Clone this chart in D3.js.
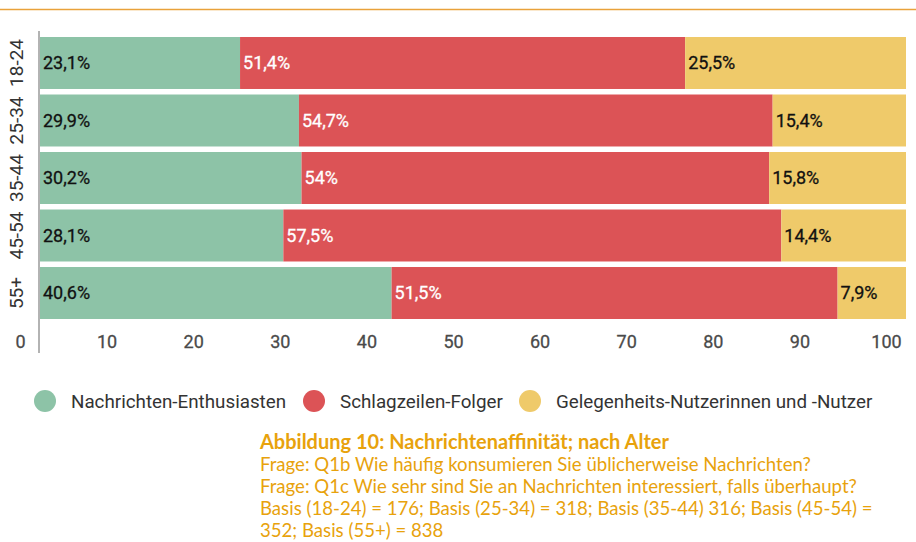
<!DOCTYPE html>
<html>
<head>
<meta charset="utf-8">
<script src="https://cdn.jsdelivr.net/npm/d3@7"></script>
<style>
  body { margin: 0; background: #fff; }
  svg { display: block; }
</style>
</head>
<body>
<div class="chart"></div>
<script>
// data
const ageGroups = ["18-24", "25-34", "35-44", "45-54", "55+"];
const enthusiasten = [23.1, 29.9, 30.2, 28.1, 40.6];
const folger = [51.4, 54.7, 54, 57.5, 51.5];
const gelegenheit = [25.5, 15.4, 15.8, 14.4, 7.9];
const seriesNames = ["Nachrichten-Enthusiasten", "Schlagzeilen-Folger", "Gelegenheits-Nutzerinnen und -Nutzer"];
const seriesColors = ["#8dc3a7", "#dc5356", "#efca6a"];
const labelColors = ["#111", "#fff", "#111"];
const xTicks = [0, 10, 20, 30, 40, 50, 60, 70, 80, 90, 100];
const captionTitle = "Abbildung 10: Nachrichtenaffinität; nach Alter";
const captionLines = [
  "Frage: Q1b Wie häufig konsumieren Sie üblicherweise Nachrichten?",
  "Frage: Q1c Wie sehr sind Sie an Nachrichten interessiert, falls überhaupt?",
  "Basis (18-24) = 176; Basis (25-34) = 318; Basis (35-44) 316; Basis (45-54) =",
  "352; Basis (55+) = 838"
];

const W = 916, H = 542;
const svg = d3.select(".chart").append("svg")
              .attr("width", W)
              .attr("height", H);

// top orange rule
svg.append("line")
   .attr("x1", 0).attr("x2", W)
   .attr("y1", 9.5).attr("y2", 9.5)
   .attr("stroke", "#e9a23b")
   .attr("stroke-width", 1.5);

// scales
const x = d3.scaleLinear().domain([0, 100]).range([40, 906]);
const xLabel = d3.scaleLinear().domain([0, 100]).range([20, 886]);
const y = d3.scaleBand().domain(ageGroups).range([37, 319]).paddingInner(0.096);

// stack
const rows = ageGroups.map((g, i) => ({ group: g, s0: enthusiasten[i], s1: folger[i], s2: gelegenheit[i] }));
const stacked = d3.stack().keys(["s0", "s1", "s2"])(rows);

const layers = svg.selectAll("g.layer")
  .data(stacked)
  .enter().append("g")
  .attr("class", "layer")
  .attr("fill", (d, i) => seriesColors[i]);

layers.selectAll("rect")
  .data(d => d)
  .enter().append("rect")
  .attr("x", d => x(d[0]))
  .attr("width", d => x(d[1]) - x(d[0]))
  .attr("y", d => y(d.data.group))
  .attr("height", y.bandwidth());

// value labels
stacked.forEach((layer, li) => {
  svg.append("g").selectAll("text")
    .data(layer)
    .enter().append("text")
    .text(d => String(+(d[1] - d[0]).toFixed(1)).replace(".", ",") + "%")
    .attr("x", d => x(d[0]) + 3)
    .attr("y", d => y(d.data.group) + y.bandwidth() / 2)
    .attr("dy", "0.36em")
    .attr("font-family", "Roboto, sans-serif")
    .attr("font-size", 18)
    .attr("stroke", labelColors[li])
    .attr("stroke-width", 0.3)
    .attr("fill", labelColors[li]);
});

// left axis line
svg.append("line")
   .attr("x1", 39).attr("x2", 39)
   .attr("y1", 31).attr("y2", 353)
   .attr("stroke", "#9a9a9a")
   .attr("stroke-width", 1.5);

// category labels (rotated)
svg.append("g").selectAll("text")
  .data(ageGroups)
  .enter().append("text")
  .text(d => d)
  .attr("transform", d => `translate(16,${y(d) + y.bandwidth() / 2}) rotate(-90)`)
  .attr("text-anchor", "middle")
  .attr("dy", "0.36em")
  .attr("font-family", "Roboto, sans-serif")
  .attr("font-size", 19)
  .attr("fill", "#333");

// bottom tick labels
const xAxis = d3.axisBottom(xLabel).tickValues(xTicks).tickSize(0).tickPadding(0);
const gx = svg.append("g").attr("transform", "translate(0,335)").call(xAxis);
gx.select(".domain").remove();
gx.selectAll("text")
  .attr("font-family", "Roboto, sans-serif")
  .attr("font-size", 18)
  .attr("stroke", "#4a4a4a")
  .attr("stroke-width", 0.3)
  .attr("fill", "#4a4a4a");

// legend
const legendX = [45, 314, 530];
const legend = svg.append("g").selectAll("g")
  .data(seriesNames)
  .enter().append("g")
  .attr("transform", (d, i) => `translate(${legendX[i]},401)`);
legend.append("circle")
  .attr("r", 11)
  .attr("fill", (d, i) => seriesColors[i]);
legend.append("text")
  .text(d => d)
  .attr("x", 26)
  .attr("dy", "0.36em")
  .attr("font-family", "Roboto, sans-serif")
  .attr("font-size", 18.8)
  .attr("fill", "#333");

// caption
const cap = svg.append("g").attr("transform", "translate(260,0)");
cap.append("text")
   .text(captionTitle)
   .attr("y", 449)
   .attr("font-family", "Lato, sans-serif")
   .attr("font-weight", "bold")
   .attr("font-size", 20)
   .attr("fill", "#e8a20c");
cap.selectAll("text.line")
   .data(captionLines)
   .enter().append("text")
   .attr("class", "line")
   .text(d => d)
   .attr("y", (d, i) => 471 + i * 22)
   .attr("font-family", "Lato, sans-serif")
   .attr("font-size", 18.6)
   .attr("fill", "#e8a20c");
</script>
</body>
</html>
